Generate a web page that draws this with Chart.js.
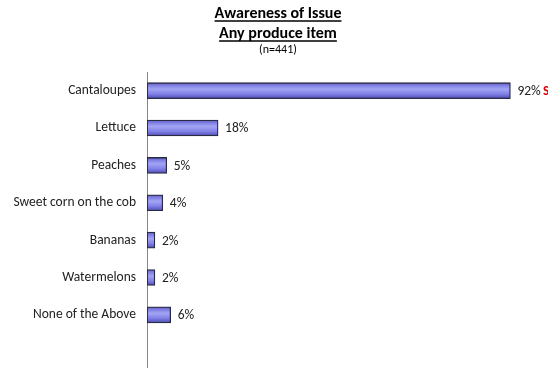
<!DOCTYPE html>
<html>
<head>
<meta charset="utf-8">
<script src="https://cdn.jsdelivr.net/npm/chart.js@4"></script>
<style>
  html, body { margin: 0; padding: 0; background: #fff; overflow: hidden; }
  #wrap { width: 548px; height: 368px; position: relative; overflow: hidden; }
</style>
</head>
<body>
<div id="wrap"><canvas id="chart" width="548" height="390"></canvas></div>
<script>
let categories = ['Cantaloupes', 'Lettuce', 'Peaches', 'Sweet corn on the cob', 'Bananas', 'Watermelons', 'None of the Above', ''];
let values = [92, 18, 5, 4, 2, 2, 6, null];
let titleLines = ['Awareness of Issue', 'Any produce item'];
let subTitle = '(n=441)';
let fontFam = 'Carlito, Lato, "Liberation Sans", sans-serif';

function barFill(ctx) {
    let chart = ctx.chart;
    let y = chart.scales.y;
    if (!y || ctx.dataIndex === undefined) return '#7b7be0';
    let cy = y.getPixelForValue(ctx.dataIndex);
    if (!isFinite(cy)) return '#7b7be0';
    let g = chart.ctx.createLinearGradient(0, cy - 8, 0, cy + 8);
    g.addColorStop(0, '#5c5cc8');
    g.addColorStop(0.2, '#8484e6');
    g.addColorStop(0.4, '#a4a4f4');
    g.addColorStop(0.7, '#8282e8');
    g.addColorStop(1, '#4a4ab0');
    return g;
}

const titlePlugin = {
    id: 'titles',
    afterDraw(chart) {
        let c = chart.ctx;
        c.save();
        c.fillStyle = '#000';
        c.strokeStyle = '#000';
        c.textAlign = 'center';
        c.textBaseline = 'alphabetic';
        c.font = 'bold 16px ' + fontFam;
        let base = [18, 38];
        titleLines.forEach(function (t, i) {
            c.fillText(t, 278, base[i]);
            let w = c.measureText(t).width;
            c.lineWidth = 1.6;
            c.beginPath();
            c.moveTo(278 - w / 2, base[i] + 3);
            c.lineTo(278 + w / 2, base[i] + 3);
            c.stroke();
        });
        c.font = '12px ' + fontFam;
        c.fillText(subTitle, 278, 53);

        // value labels
        let meta = chart.getDatasetMeta(0);
        c.font = '13.5px ' + fontFam;
        c.textAlign = 'left';
        c.textBaseline = 'middle';
        meta.data.forEach(function (bar, i) {
            if (values[i] === null) return;
            c.fillStyle = '#222';
            let txt = values[i] + '%';
            c.fillText(txt, bar.x + 7, bar.y + 1);
            if (i === 0) {
                c.fillStyle = '#e00000';
                c.font = 'bold 13.5px ' + fontFam;
                c.fillText('S', bar.x + 7 + c.measureText(txt).width + 2, bar.y + 1);
                c.font = '13.5px ' + fontFam;
            }
        });
        c.restore();
    }
};

new Chart(document.getElementById('chart'), {
    type: 'bar',
    data: {
        labels: categories,
        datasets: [{
            data: values,
            backgroundColor: barFill,
            borderColor: '#2a2a40',
            borderWidth: 1.3,
            borderSkipped: false,
            barThickness: 16
        }]
    },
    options: {
        indexAxis: 'y',
        responsive: false,
        animation: false,
        events: [],
        layout: { padding: { top: 72, right: 6, bottom: 0, left: 0 } },
        plugins: { legend: { display: false }, tooltip: { enabled: false } },
        scales: {
            x: {
                display: false,
                min: 0,
                max: 100
            },
            y: {
                afterFit(scale) { scale.width = 147; },
                grid: { display: false, drawTicks: false },
                border: { display: true, color: '#888', width: 1 },
                ticks: {
                    padding: 11,
                    color: '#222',
                    font: { family: fontFam, size: 13.5 }
                }
            }
        }
    },
    plugins: [titlePlugin]
});
</script>
</body>
</html>
